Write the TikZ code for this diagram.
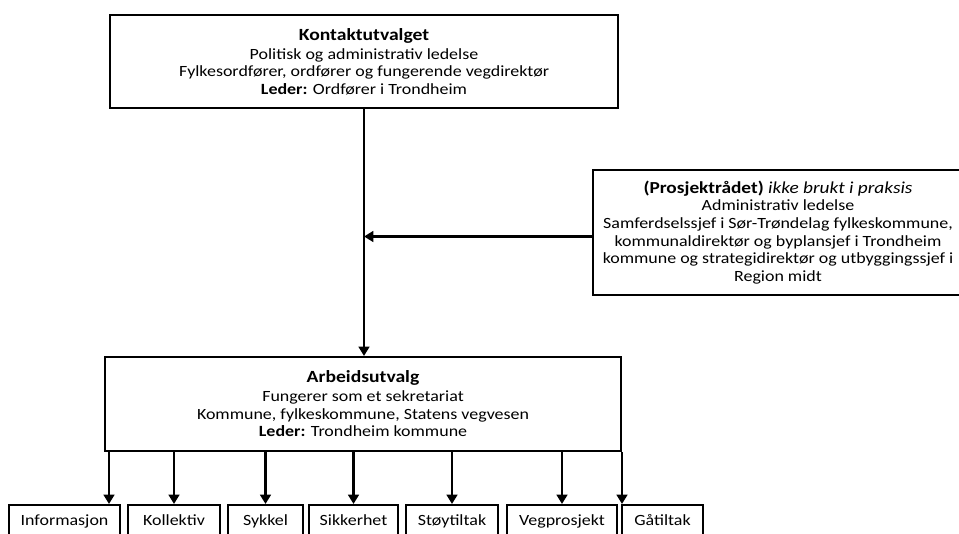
\documentclass[tikz,border=0pt]{standalone}
\usepackage{fontspec}
\setmainfont{Carlito}[FakeStretch=1.15]
\usetikzlibrary{arrows.meta}

\begin{document}
\begin{tikzpicture}[x=0.75pt, y=-0.75pt,
	box/.style={draw, line width=1.5pt, align=center, inner sep=0pt, font=\fontsize{11.7}{13.2}\selectfont},
	leaf/.style={box, minimum height=24pt, text height=8.5pt, text depth=2.5pt},
	arr/.style={line width=2.2pt, -{Triangle[width=8pt,length=7pt]}}]
	\useasboundingbox (0,0) rectangle (959,534);

	\node[box, minimum width=381pt, minimum height=70pt] (kont) at (364, 61.5) {{\fontsize{12.8}{13.2}\selectfont\bfseries Kontaktutvalget}\\[1pt]Politisk og administrativ ledelse\\Fylkesordfører, ordfører og fungerende vegdirektør\\\textbf{Leder:} Ordfører i Trondheim};
	\node[box, minimum width=277.5pt, minimum height=93.75pt] (prosj) at (778, 232.5) {{\fontsize{12.6}{13.2}\selectfont\textbf{(Prosjektrådet)} \textit{ikke brukt i praksis}}\\Administrativ ledelse\\Samferdselssjef i Sør-Trøndelag fylkeskommune,\\kommunaldirektør og byplansjef i Trondheim\\kommune og strategidirektør og utbyggingssjef i\\Region midt};
	\node[box, minimum width=387pt, minimum height=70.5pt] (arb) at (363, 404) {{\fontsize{12.8}{13.2}\selectfont\bfseries Arbeidsutvalg}\\[1pt]Fungerer som et sekretariat\\Kommune, fylkeskommune, Statens vegvesen\\\textbf{Leder:} Trondheim kommune};

	\node[leaf, minimum width=83.25pt] (info) at (64.5, 521) {Informasjon};
	\node[leaf, minimum width=69pt] (kol) at (174, 521) {Kollektiv};
	\node[leaf, minimum width=56.25pt] (syk) at (265.5, 521) {Sykkel};
	\node[leaf, minimum width=66.75pt] (sik) at (353.5, 521) {Sikkerhet};
	\node[leaf, minimum width=69pt] (sto) at (452, 521) {Støytiltak};
	\node[leaf, minimum width=82.5pt] (veg) at (562, 521) {Vegprosjekt};
	\node[leaf, minimum width=60.75pt] (gat) at (662.5, 521) {Gåtiltak};

	% Draw the arrows between the boxes
	\draw[arr] (kont.south) -- (kont.south |- arb.north);
	\draw[arr] ([yshift=-3pt]prosj.west) -- ([yshift=-3pt]prosj.west -| kont.south);

	\draw[arr] ([xshift=3.75pt]arb.south west) coordinate (s1) -- (s1 |- info.north);
	\draw[arr] (arb.south -| kol.north) -- (kol.north);
	\draw[arr] (arb.south -| syk.north) -- (syk.north);
	\draw[arr] (arb.south -| sik.north) -- (sik.north);
	\draw[arr] (arb.south -| sto.north) -- (sto.north);
	\draw[arr] (arb.south -| veg.north) -- (veg.north);
	\draw[arr] (arb.south east) -- (arb.south east |- gat.north);
\end{tikzpicture}
\end{document}
